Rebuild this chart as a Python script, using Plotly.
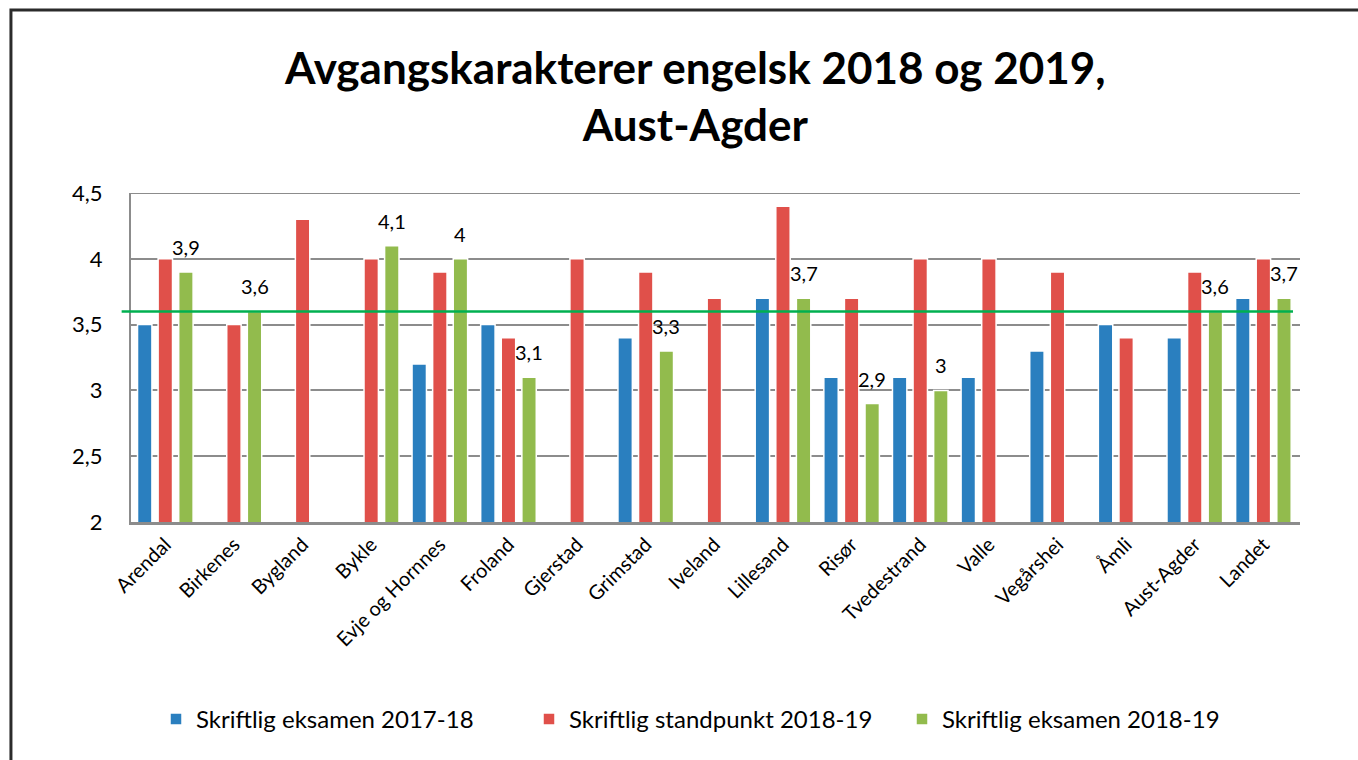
import plotly.graph_objects as go

# Kommuner og sammenligningsgrupper
kommuner = ["Arendal", "Birkenes", "Bygland", "Bykle", "Evje og Hornnes", "Froland",
            "Gjerstad", "Grimstad", "Iveland", "Lillesand", "Risør", "Tvedestrand",
            "Valle", "Vegårshei", "Åmli", "Aust-Agder", "Landet"]

eksamen_2017_18 = [3.5, None, None, None, 3.2, 3.5, None, 3.4, None, 3.7, 3.1, 3.1,
                   3.1, 3.3, 3.5, 3.4, 3.7]
standpunkt_2018_19 = [4.0, 3.5, 4.3, 4.0, 3.9, 3.4, 4.0, 3.9, 3.7, 4.4, 3.7, 4.0,
                      4.0, 3.9, 3.4, 3.9, 4.0]
eksamen_2018_19 = [3.9, 3.6, None, 4.1, 4.0, 3.1, None, 3.3, None, 3.7, 2.9, 3.0,
                   None, None, None, 3.6, 3.7]

referanse = 3.6
y_ticks = [2, 2.5, 3, 3.5, 4, 4.5]

FONT = "Lato"
BLUE, RED, GREEN = "#2a7fbf", "#e0504a", "#92bb4d"
BARGAP = 0.1

fig = go.Figure()
for navn, verdier, farge in [
    ("Skriftlig eksamen 2017-18", eksamen_2017_18, BLUE),
    ("Skriftlig standpunkt 2018-19", standpunkt_2018_19, RED),
    ("Skriftlig eksamen 2018-19", eksamen_2018_19, GREEN),
]:
    fig.add_trace(go.Bar(
        x=kommuner, y=verdier, name=navn,
        marker=dict(color=farge, line=dict(color="white", width=1.5)),
    ))

# Verdietiketter over søylene for eksamen 2018-19
slot = (1 - BARGAP) / 3
for i, v in enumerate(eksamen_2018_19):
    if v is None:
        continue
    fig.add_annotation(
        x=i + slot, y=v, xref="x", yref="y",
        text=f"{v:g}".replace(".", ","), showarrow=False,
        yanchor="bottom", yshift=11,
        font=dict(family=FONT, size=20, color="#000"),
    )

# Referanselinje
fig.add_shape(type="line", xref="paper", yref="y",
              x0=-0.008, x1=0.994, y0=referanse, y1=referanse,
              line=dict(color="#00b050", width=2.5), layer="above")

# Ramme rundt diagrammet
fig.add_shape(type="rect", xref="paper", yref="paper",
              x0=-0.1027, x1=1.08, y0=1.556, y1=-0.78,
              line=dict(color="#2b2b2b", width=3), fillcolor="rgba(0,0,0,0)",
              layer="below")

fig.update_layout(
    width=1358, height=760,
    margin=dict(l=131, r=58, t=193, b=238),
    paper_bgcolor="white", plot_bgcolor="white",
    separators=", ",
    barmode="group", bargap=BARGAP, bargroupgap=0.3,
    font=dict(family=FONT, color="#000"),
    title=dict(
        text="<b>Avgangskarakterer engelsk 2018 og 2019,<br>Aust-Agder</b>",
        x=0.512, xanchor="center", y=0.89, yanchor="top",
        xref="container", yref="container",
        font=dict(family=FONT, size=44, color="#000"),
    ),
    xaxis=dict(
        tickangle=-45, tickfont=dict(family=FONT, size=20, color="#000"),
        showgrid=False, showline=True, linecolor="#8c8c8c", linewidth=3,
        ticks="",
    ),
    yaxis=dict(
        range=[2, 4.5], tickvals=y_ticks,
        tickfont=dict(family=FONT, size=22, color="#000"),
        showgrid=True, gridcolor="#8c8c8c", gridwidth=2,
        showline=True, linecolor="#8c8c8c", linewidth=2,
        zeroline=False, ticks="", ticklabelstandoff=22,
    ),
    legend=dict(
        orientation="h", x=0.5, xanchor="center", y=-0.6, yanchor="middle",
        font=dict(family=FONT, size=24, color="#000"),
        entrywidth=328, entrywidthmode="pixels",
    ),
)

# Øverste linje i plottområdet
fig.add_shape(type="line", xref="paper", yref="y", x0=0, x1=1, y0=4.5, y1=4.5,
              line=dict(color="#8c8c8c", width=2), layer="below")

fig.write_html("out.html")
